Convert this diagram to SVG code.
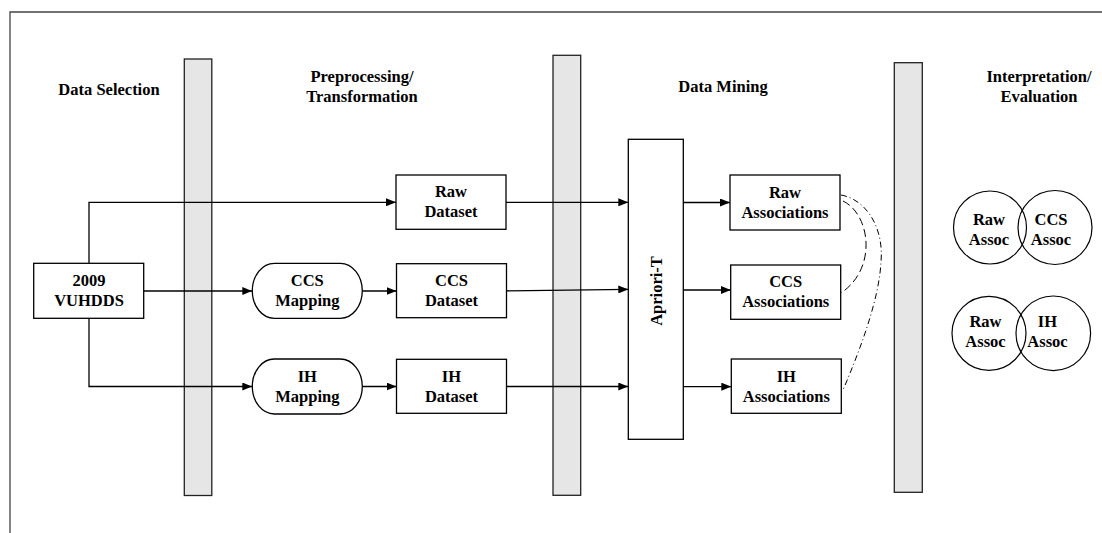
<svg xmlns="http://www.w3.org/2000/svg" width="1102" height="533" viewBox="0 0 1102 533">
<style>
text{font-family:"Liberation Serif","Times New Roman",serif;font-weight:bold;font-size:16.5px;fill:#000;text-anchor:middle}
.box{fill:#fff;stroke:#000;stroke-width:1.3}
.bar{fill:#e6e6e6;stroke:#222;stroke-width:1.3}
.conn{fill:none;stroke:#000;stroke-width:1.3}
.dash{fill:none;stroke:#000;stroke-width:1;stroke-dasharray:8,4}
.dashdot{fill:none;stroke:#000;stroke-width:1;stroke-dasharray:6,3,1,3}
</style>
<defs>
<marker id="arr" markerUnits="userSpaceOnUse" markerWidth="10" markerHeight="8" refX="10" refY="4" orient="auto">
<path d="M0,0 L10,4 L0,8 z" fill="#000"/>
</marker>
</defs>
<rect width="1102" height="533" fill="#fff"/>
<path d="M10,533 V12 H1102" fill="none" stroke="#444" stroke-width="1.3"/>

<g id="phase-bars">
<rect class="bar" x="184.3" y="59" width="27.5" height="436.5"/>
<rect class="bar" x="553" y="55.3" width="27.7" height="440"/>
<rect class="bar" x="894.3" y="62.7" width="28" height="429.6"/>
</g>

<g id="phase-labels">
<text x="109" y="95">Data Selection</text>
<text x="362" y="82">Preprocessing/</text>
<text x="362" y="101.5">Transformation</text>
<text x="723" y="91.5">Data Mining</text>
<text x="1039" y="82">Interpretation/</text>
<text x="1039" y="101.5">Evaluation</text>
</g>

<g id="connectors">
<path class="conn" d="M89,263.3 V202.3 H396" marker-end="url(#arr)"/>
<path class="conn" d="M143.7,291 H252.3" marker-end="url(#arr)"/>
<path class="conn" d="M89,318.3 V386.5 H252.3" marker-end="url(#arr)"/>
<path class="conn" d="M362.3,291 H396.5" marker-end="url(#arr)"/>
<path class="conn" d="M362.3,386.5 H396.5" marker-end="url(#arr)"/>
<path class="conn" d="M506,202.3 H628.3" marker-end="url(#arr)"/>
<path class="conn" d="M506.5,290.8 L628.3,289.3" marker-end="url(#arr)"/>
<path class="conn" d="M506.5,386.5 H628.3" marker-end="url(#arr)"/>
<path class="conn" d="M683.3,202.5 H730" marker-end="url(#arr)"/>
<path class="conn" d="M683.3,290 H730.7" marker-end="url(#arr)"/>
<path class="conn" d="M683.3,386.7 H731.3" marker-end="url(#arr)"/>
<path class="dash" d="M843,201 C870,214 878,268 841,293"/>
<path class="dashdot" d="M841,195 C868,200 884,230 881,262 C879,300 860,350 843,390"/>
</g>

<g id="vuhdds">
<rect class="box" x="33.7" y="263.3" width="110" height="55"/>
<text x="89" y="286">2009</text>
<text x="89" y="306">VUHDDS</text>
</g>
<g id="ccs-mapping">
<rect class="box" x="252.3" y="263.3" width="110" height="55" rx="22" ry="27.5"/>
<text x="307.3" y="286">CCS</text>
<text x="307.3" y="306">Mapping</text>
</g>
<g id="ih-mapping">
<rect class="box" x="252.3" y="359" width="110" height="55" rx="22" ry="27.5"/>
<text x="307.3" y="381.5">IH</text>
<text x="307.3" y="401.5">Mapping</text>
</g>
<g id="raw-dataset">
<rect class="box" x="396" y="175" width="110" height="54.3"/>
<text x="451" y="197.3">Raw</text>
<text x="451" y="217.3">Dataset</text>
</g>
<g id="ccs-dataset">
<rect class="box" x="396.5" y="263.7" width="110" height="54"/>
<text x="451.5" y="286">CCS</text>
<text x="451.5" y="306">Dataset</text>
</g>
<g id="ih-dataset">
<rect class="box" x="396.5" y="359.3" width="110" height="54"/>
<text x="451.5" y="381.5">IH</text>
<text x="451.5" y="401.5">Dataset</text>
</g>
<g id="apriori-t">
<rect class="box" x="628.3" y="139.3" width="55" height="300"/>
<text x="0" y="0" transform="translate(661.7,291) rotate(-90)">Apriori-T</text>
</g>
<g id="raw-associations">
<rect class="box" x="730" y="175" width="110" height="55"/>
<text x="785" y="197.5">Raw</text>
<text x="785" y="217.5">Associations</text>
</g>
<g id="ccs-associations">
<rect class="box" x="730.7" y="265" width="110" height="54.3"/>
<text x="785.7" y="287">CCS</text>
<text x="785.7" y="307">Associations</text>
</g>
<g id="ih-associations">
<rect class="box" x="731.3" y="359" width="110" height="54.3"/>
<text x="786.3" y="381.5">IH</text>
<text x="786.3" y="401.5">Associations</text>
</g>

<g id="venn-raw-ccs">
<circle cx="990" cy="227.5" r="36.5" fill="none" stroke="#000" stroke-width="1.2"/>
<circle cx="1055" cy="227.5" r="37" fill="none" stroke="#000" stroke-width="1.2"/>
<text x="989" y="225">Raw</text>
<text x="989" y="245">Assoc</text>
<text x="1051" y="225">CCS</text>
<text x="1051" y="245">Assoc</text>
</g>
<g id="venn-raw-ih">
<circle cx="989" cy="333.3" r="37" fill="none" stroke="#000" stroke-width="1.2"/>
<circle cx="1053.3" cy="333.3" r="37.3" fill="none" stroke="#000" stroke-width="1.2"/>
<text x="985.5" y="327">Raw</text>
<text x="985.5" y="347">Assoc</text>
<text x="1047.5" y="327">IH</text>
<text x="1047.5" y="347">Assoc</text>
</g>
</svg>
